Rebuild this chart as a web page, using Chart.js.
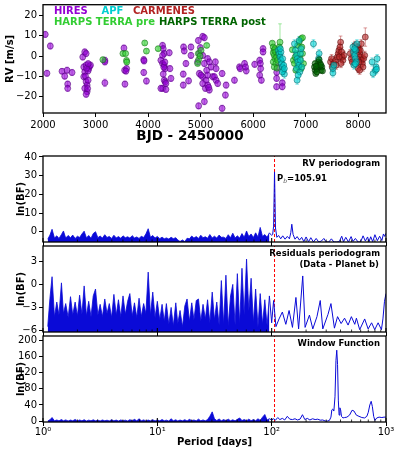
<!DOCTYPE html>
<html>
<head>
<meta charset="utf-8">
<script src="https://cdn.jsdelivr.net/npm/chart.js@4.4.0/dist/chart.umd.min.js"></script>
<style>
  body { margin: 0; background: #fff; overflow: hidden; }
  #wrap { position: relative; width: 398px; height: 452px; }
  canvas { position: absolute; left: 0; top: 0; }
</style>
</head>
<body>
<div id="wrap">
  <canvas id="rv" width="398" height="452"></canvas>
  <canvas id="p1" width="398" height="452"></canvas>
  <canvas id="p2" width="398" height="452"></canvas>
  <canvas id="p3" width="398" height="452"></canvas>
</div>
<script>
// ---- RV data: [BJD-2450000, RV m/s, error m/s] per instrument ----
const hiresRV = [
  [2043,10.6,1.5],[2139,4.9,1.5],[2075,-8.5,1.5],[2362,-7.5,1.3],[2413,-9.9,1.5],[2458,-7.0,1.5],[2553,-8.1,1.5],
  [2470,-13.8,1.5],[2470,-15.9,1.5],[2757,-0.5,1.5],[2795,2.0,1.5],[2821,1.2,1.5],[2776,-5.4,1.5],[2821,-4.5,1.5],
  [2872,-6.2,1.5],[2795,-7.8,1.5],[2776,-10.2,1.5],[2821,-12.7,1.5],[2840,-14.3,1.5],[2795,-15.9,1.5],[2840,-17.5,1.5],
  [2821,-18.8,1.5],[2885,-5.0,1.5],[2859,-7.3,1.5],[2904,-4.5,1.5],[2808,-9.9,1.5],[2859,-11.9,1.5],[2830,-6.0,1.5],
  [2850,-16.0,1.5],[2860,-3.8,1.5],[3178,-2.1,1.5],[3178,-2.9,1.5],[3178,-13.2,1.8],[3541,3.9,1.5],[3554,-7.0,1.5],
  [3592,-6.2,1.5],[3560,-13.8,1.5],[3580,-7.4,1.5],[3918,-1.8,1.5],[3924,-2.4,1.5],[3918,-8.1,1.5],[3969,-12.3,1.5],
  [4276,5.2,1.5],[4289,3.6,1.5],[4308,1.2,1.5],[4276,0.3,1.5],[4404,1.6,1.5],[4244,-2.1,1.5],[4276,-3.7,1.5],
  [4308,-4.5,1.5],[4327,-6.2,1.5],[4417,-6.2,1.5],[4436,-11.0,1.5],[4289,-8.9,1.5],[4308,-11.9,1.5],[4327,-12.7,1.5],
  [4276,-15.9,1.5],[4340,-16.4,1.5],[4244,-15.9,1.5],[4340,-13.5,1.5],[4300,-5.5,1.5],[4320,-3.0,1.5],
  [4676,4.4,1.5],[4689,2.5,1.5],[4721,-3.7,1.5],[4670,-8.9,1.5],[4772,-12.2,1.5],[4670,-14.3,1.5],[4817,4.4,1.5],
  [4817,0.3,1.5],[4957,7.6,1.5],[5040,9.6,1.5],[5072,9.0,1.5],[4995,4.1,1.5],[4976,1.2,1.5],[5040,0.3,1.5],
  [4944,-2.9,1.5],[5072,-3.7,1.5],[5135,-1.3,1.5],[5167,-2.9,1.5],[4976,-8.6,1.5],[5040,-10.2,1.5],[5104,-11.9,1.5],
  [5040,-13.5,1.5],[5091,-15.9,1.5],[4963,-24.5,1.5],[5072,-22.4,1.5],[5199,-5.4,1.5],[5231,-10.2,1.5],[5135,-14.3,1.5],
  [5167,-16.7,1.5],[5008,-9.4,1.5],[5135,-9.4,1.5],[5116,-7.0,1.5],[5155,-15.4,1.5],[5282,-2.9,1.5],[5295,-6.2,1.5],
  [5263,-10.2,1.5],[5295,-11.9,1.5],[5326,-13.5,1.5],[5410,-8.6,1.5],[5410,-25.7,1.5],[5486,-14.3,1.5],[5473,-19.2,1.5],
  [5645,-11.9,1.5],[5741,-5.4,1.5],[5754,-6.2,1.5],[5837,-3.7,1.5],[5869,-7.3,1.5],[5856,-5.4,1.5],[6030,-4.1,1.5],
  [6125,-2.1,1.5],[6138,-3.7,1.5],[6189,3.6,1.5],[6189,2.0,1.5],[6157,-11.9,1.5],[6125,-9.4,1.5],[6144,-6.2,1.5],
  [6447,-11.0,1.5],[6447,-15.1,1.5],[6555,-13.2,1.5],[6555,-15.1,1.5],[6460,-5.4,1.5],[6450,-8.0,1.5]
];
const harpsPreRV = [
  [3140,-1.8,1.2],[3522,1.2,1.2],[3573,1.2,1.2],[3590,-2.2,1.2],[3595,-3.0,1.2],[3937,6.4,1.0],[3969,2.4,1.0],
  [4193,3.6,1.0],[4957,1.2,1.0],[5008,2.8,1.0],[4963,-1.8,1.0],[4944,-3.7,1.0],[5116,5.2,1.0],[4990,0.0,1.0],
  [6365,6.3,1.0],[6384,4.4,1.0],[6397,2.8,1.0],[6416,3.6,1.0],[6384,1.5,1.0],[6403,0.3,1.0],[6429,2.0,1.0],
  [6416,-1.3,1.0],[6448,-0.5,1.0],[6384,-2.9,1.0],[6435,-3.7,1.0],[6467,-2.1,1.0],[6480,1.2,1.0],[6512,6.8,9.0],
  [6499,4.4,1.0],[6403,-5.4,1.0],[6455,-6.0,1.0],[6748,3.1,1.0],[6767,-2.1,1.0],[6787,-3.7,1.0],[6800,-0.5,1.0],
  [6832,1.2,1.0],[6851,5.2,1.0],[6876,6.8,1.0],[6914,8.5,1.0],[6940,9.0,1.0],[6927,4.4,1.0],[6940,1.2,1.0],
  [6959,-3.7,1.0],[6914,-6.2,1.0],[6864,-5.4,1.0],[6813,-7.0,1.0],[6895,-1.3,1.0]
];
const harpsPostRV = [
  [7168,-5.4,1.2],[7181,-7.0,1.2],[7194,-8.6,1.2],[7213,-6.2,1.2],[7232,-4.5,1.2],[7245,-2.9,1.2],[7257,-1.8,1.2],
  [7277,-5.4,1.2],[7296,-7.0,1.2],[7309,-5.4,1.2],[7321,-7.3,1.2],[7213,-7.8,1.2],[7277,-3.7,1.2],[7181,-3.7,1.2],
  [7290,-4.5,1.2],[7200,-5.0,1.2]
];
const apfRV = [
  [6480,2.8,2],[6499,1.2,2],[6512,-0.5,2],[6531,-2.1,2],[6544,-3.7,2],[6557,-5.4,2],[6576,-7.0,2],[6595,-8.9,2],
  [6563,-1.3,2],[6531,2.0,2],[6582,-4.5,2],[6518,3.6,2],[6557,-7.8,2],[6595,-6.2,2],[6787,6.0,2],[6806,2.8,2],
  [6825,0.3,2],[6838,-1.3,2],[6851,-2.9,2],[6870,-4.5,2],[6825,-6.2,2],[6838,-11.9,2],[6889,-7.8,2],[6902,1.2,2],
  [6914,3.6,2],[6876,7.6,2],[6857,-9.4,2],[6902,-2.1,2],[6927,-5.4,2],[7149,6.0,2],[7257,1.2,2],[7245,-1.3,2],
  [7519,-8.3,2],[7519,-6.2,2],[7538,-4.5,2],[7900,4.4,2],[7913,2.0,2],[7932,0.3,2],[7945,-1.3,2],[7964,-2.9,2],
  [7951,2.8,2],[7920,-4.5,2],[7977,6.0,2],[7932,3.6,2],[7945,-3.8,2],[8265,-2.9,2],[8284,-8.6,2],[8329,-7.0,2],
  [8361,-1.3,2],[8342,-5.4,2],[8350,-6.5,2]
];
const carmenesRV = [
  [7474,-2.9,2],[7494,-1.3,2],[7506,-5.4,2],[7538,-3.7,2],[7570,-2.1,2],[7602,-0.5,2],[7621,1.2,2],[7634,2.8,2],
  [7666,6.8,3],[7653,4.4,2],[7685,2.0,2],[7698,-0.5,2],[7710,-2.1,2],[7672,-3.7,2],[7583,-4.5,2],[7730,0.3,2],
  [7640,-0.5,2],[7850,1.2,2],[7869,-1.3,2],[7888,-2.9,2],[7996,4.4,2],[8015,2.8,2],[8028,1.2,2],[8040,-0.5,2],
  [8060,-2.1,2],[8079,-3.7,2],[8092,-5.4,2],[8104,-1.3,2],[8124,0.3,2],[8060,6.0,2],[8002,-6.2,2],[8028,-7.0,2],
  [8136,9.3,4.5],[8040,2.8,2],[7964,2.8,2],[7939,5.2,2],[7980,-1.5,2],[8010,-3.0,2]
];
const bjdTicks = [2000, 3000, 4000, 5000, 6000, 7000, 8000];

// ---- periodograms: shared period grid 1.1 - 95.5 d, then per-panel tails ----
const gridPeriods = [
  1.1,1.15,1.2,1.26,1.32,1.38,1.45,1.51,1.58,1.66,1.74,1.82,1.91,2.0,2.09,2.19,2.29,2.4,2.51,2.63,2.75,2.88,
  3.02,3.16,3.31,3.47,3.63,3.8,3.98,4.17,4.37,4.57,4.79,5.01,5.25,5.5,5.75,6.03,6.31,6.61,6.92,7.24,7.59,7.94,
  8.32,8.71,9.12,9.55,10,10.5,11,11.5,12,12.6,13.2,13.8,14.5,15.1,15.8,16.6,17.4,18.2,19.1,20,20.9,21.9,22.9,24,
  25.1,26.3,27.5,28.8,30.2,31.6,33.1,34.7,36.3,38,39.8,41.7,43.7,45.7,47.9,50.1,52.5,55,57.5,60.3,63.1,66.1,
  69.2,72.4,75.9,79.4,83.2,87.1,91.2,95.5
];
const rvPowerDense = [
  -4.0,-1.8,1.3,-3.4,-2.2,-3.6,-1.5,0.4,-3.4,-2.0,-3.2,-1.8,-3.6,-2.4,-3.1,-1.2,0.3,-3.3,-2.0,-3.5,-1.0,0.0,
  -3.2,-2.3,-3.4,-1.6,-3.1,-2.5,-3.6,-1.9,-3.3,-2.6,-3.5,-2.2,-3.2,-2.7,-3.4,-2.1,-3.3,-2.8,-3.6,-2.4,-3.1,-1.2,
  1.6,-3.0,-2.0,-3.4,-2.5,-3.7,-2.9,-3.8,-3.3,-3.9,-3.0,-3.7,-3.2,-4.4,-5.2,-4.4,-5.3,-3.5,-3.8,-2.3,-3.4,-2.6,
  -3.6,-1.9,-3.2,-2.7,-3.5,-1.5,-3.3,-2.4,-3.4,-1.8,-3.0,-2.9,-3.6,-1.6,-3.2,-0.8,-3.3,-2.2,-3.4,-1.0,-3.0,0.4,
  -2.6,-1.2,-3.1,-0.6,-2.8,2.3,-2.6,-1.5,-3.0,-0.6
];
const rvTailPeriods = [
  100,102,104,105.91,108,111,115,120,125,131,137,143,147,150,154,160,167,175,183,191,200,210,220,232,245,
  258,272,286,300,316,333,350,370,390,410,425,445,470,495,515,540,570,600,630,660,690,710,735,765,800,840,
  880,920,950,975,1000
];
const rvTailPower = [
  -2.0,-1.5,3.0,32.0,2.0,-3.0,-2.0,-3.8,-2.2,-4.0,-2.5,-3.8,-0.5,4.0,-1.5,-4.0,-2.6,-4.5,-3.0,-5.3,-2.8,-5.4,
  -3.2,-5.5,-3.6,-5.5,-5.0,-3.6,-5.5,-5.5,-3.8,-5.5,-5.5,-5.3,-2.4,-5.4,-3.0,-5.5,-2.6,-5.2,-3.6,-5.5,-5.5,
  -2.2,-5.0,-2.8,-5.4,-2.7,-5.3,-1.6,-4.8,-2.4,-4.7,-1.2,-2.5,-0.8
];
const resPowerDense = [
  -5.5,-1.8,1.0,-4.2,-2.3,-4.0,0.2,-3.8,-2.5,-4.3,-1.6,-4.0,-2.3,-4.1,-1.4,-3.9,-0.2,-4.1,-2.2,-4.2,-1.5,-0.6,
  -4.0,-2.6,-4.2,-1.9,-3.8,-2.5,-4.3,-1.3,-4.0,-2.0,-4.2,-1.5,-3.9,-2.2,-1.2,-4.1,-2.4,-4.3,-1.8,-4.2,-2.5,-3.8,
  1.6,-4.0,-1.0,-4.3,-2.2,-4.6,-2.6,-4.8,-2.5,-5.2,-3.0,-5.4,-2.4,-5.1,-3.4,-5.5,-2.8,-1.9,-4.8,-2.4,-4.6,-2.1,
  -1.9,-4.8,-2.6,-4.5,-2.0,-5.0,-1.0,-4.6,-2.3,-5.3,0.5,-5.2,1.2,-5.4,-1.5,0.0,-5.3,1.4,-5.1,2.1,-4.0,3.3,-3.5,
  0.8,-5.0,-0.6,-5.5,-1.2,-5.2,-2.0,-5.4,-1.5
];
const resTailPeriods = [
  100,104,109,116,124,133,142,152,163,172,187,196,214,229,249,266,280,311,330,354,377,405,434,466,498,533,
  551,589,651,698,748,797,853,912,940,970,1000
];
const resTailPower = [
  -5.0,-2.1,-5.5,-4.5,-3.6,-5.2,-3.4,-5.6,-1.7,-5.8,1.1,-5.6,-4.0,-5.8,-4.2,-2.1,-5.8,-3.9,-2.5,-5.7,-4.2,-5.1,
  -4.4,-5.3,-4.2,-5.2,-4.4,-5.9,-4.5,-5.8,-5.0,-5.9,-5.0,-5.9,-4.5,-2.2,-1.2
];
const winPowerDense = [
  0.5,3.5,9,1.0,3.0,0.8,4.0,1.0,3.2,0.6,2.8,1.0,4.2,0.7,3.0,0.9,3.6,0.5,2.6,1.0,3.4,0.8,2.5,0.6,3.0,1.0,2.4,
  0.7,3.3,0.8,2.7,0.5,3.1,0.9,2.6,0.6,3.8,1.0,4.5,0.8,6.0,1.0,3.2,0.6,2.8,0.9,3.5,0.7,3.0,0.8,4.0,1.0,2.6,0.5,
  6.0,1.0,3.4,0.6,2.8,1.0,3.7,0.7,4.5,1.2,3.0,0.8,5.0,1.0,3.2,0.9,4.0,12,23,6,1.5,5.5,1.0,4.0,1.2,5.0,1.0,3.5,
  0.8,4.5,8.0,1.5,4.0,1.0,5.0,1.2,4.0,1.0,6.0,2.0,10,16.5,3.0,6.0
];
const winTailPeriods = [
  100,104,108,113,118,124,130,137,144,152,160,168,177,186,195,205,216,228,240,253,266,280,294,308,320,330,
  336,342,350,358,365,371,377,383,389,395,401,408,420,435,455,480,505,525,550,580,615,650,680,700,722,742,
  760,780,800,830,870,920,960,1000
];
const winTailPower = [
  3,6,2.5,9,4,7,3,12,5,4,6,3,5,16,4,7,3,6,4,5,2.5,3,0.5,0.5,2,10,28,30,25,60,150,175,140,50,15,33,28,12,8,9,
  10,15,27,25,15,12,9,8,12,22,40,49,36,12,2,8,10,9,10,10
];
const periodTicks = [1,2,3,4,5,6,7,8,9,10,20,30,40,50,60,70,80,90,100,200,300,400,500,600,700,800,900,1000];
const decadeLabels = ['10\u2070', '10\u00b9', '10\u00b2', '10\u00b3'];
const planetPeriod = 105.91;

Chart.defaults.font.family = "'DejaVu Sans', sans-serif";
Chart.defaults.color = '#000';

const BLUE = 'rgb(10,10,215)';

function minus(v) { return String(v).replace('-', '\u2212'); }
function isDecade(v) { const l = Math.log10(v); return Math.abs(l - Math.round(l)) < 1e-9; }
function noPad(s) { s.paddingTop = 0; s.paddingBottom = 0; s.paddingLeft = 0; s.paddingRight = 0; }

// box around the plotting area
const frame = {
  id: 'frame',
  afterDraw(chart) {
    const a = chart.chartArea, c = chart.ctx;
    c.save();
    c.lineWidth = 1.3;
    c.strokeStyle = '#000';
    c.strokeRect(a.left, a.top, a.right - a.left, a.bottom - a.top);
    c.restore();
  }
};

// inward tick marks along the bottom of the log axis
const innerTicks = {
  id: 'innerTicks',
  afterDraw(chart) {
    const xs = chart.scales.x, a = chart.chartArea, c = chart.ctx;
    c.save();
    c.strokeStyle = '#000';
    xs.ticks.forEach(t => {
      const px = xs.getPixelForValue(t.value);
      const major = isDecade(t.value);
      c.lineWidth = major ? 1.1 : 0.8;
      c.beginPath();
      c.moveTo(px, a.bottom);
      c.lineTo(px, a.bottom - (major ? 4 : 2.5));
      c.stroke();
    });
    c.restore();
  }
};

// error bars for the RV points
const errorBars = {
  id: 'errorBars',
  beforeDatasetsDraw(chart) {
    const c = chart.ctx, xs = chart.scales.x, ys = chart.scales.y;
    const sets = chart.data.datasets;
    c.save();
    c.lineWidth = 1;
    for (let i = sets.length - 1; i >= 0; i--) {
      const ds = sets[i];
      c.strokeStyle = ds.errorColor;
      c.beginPath();
      ds.data.forEach(p => {
        const px = xs.getPixelForValue(p.x);
        const lo = ys.getPixelForValue(p.y - p.err), hi = ys.getPixelForValue(p.y + p.err);
        c.moveTo(px, lo); c.lineTo(px, hi);
        c.moveTo(px - 1.8, lo); c.lineTo(px + 1.8, lo);
        c.moveTo(px - 1.8, hi); c.lineTo(px + 1.8, hi);
      });
      c.stroke();
    }
    c.restore();
  }
};

// free text (legend words, panel captions, axis title)
function textLayer(items) {
  return {
    id: 'texts',
    afterDraw(chart) {
      const c = chart.ctx;
      items.forEach(it => {
        c.save();
        c.textBaseline = 'middle';
        const runs = it.runs || [{ text: it.text }];
        let w = 0;
        runs.forEach(r => { c.font = r.font || it.font; w += c.measureText(r.text).width; });
        let x = it.x;
        if (it.align === 'right') x -= w;
        if (it.align === 'center') x -= w / 2;
        runs.forEach(r => {
          c.font = r.font || it.font;
          c.fillStyle = r.color || it.color || '#000';
          c.fillText(r.text, x, it.y + (r.dy || 0));
          x += c.measureText(r.text).width;
        });
        c.restore();
      });
    }
  };
}

function toPoints(rows) { return rows.map(r => ({ x: r[0], y: r[1], err: r[2] })); }

function rvSet(rows, rgb, edge) {
  return {
    data: toPoints(rows),
    backgroundColor: 'rgba(' + rgb + ',0.6)',
    borderColor: edge,
    borderWidth: 0.7,
    pointRadius: 3,
    errorColor: 'rgba(' + rgb + ',0.45)'
  };
}

const LEG = 'bold 10px "DejaVu Sans"';

new Chart(document.getElementById('rv'), {
  type: 'scatter',
  data: {
    datasets: [
      rvSet(harpsPostRV, '0,100,0', 'rgba(0,50,0,0.8)'),
      rvSet(apfRV, '0,206,209', 'rgba(0,100,105,0.8)'),
      rvSet(carmenesRV, '178,34,34', 'rgba(90,10,10,0.8)'),
      rvSet(harpsPreRV, '50,205,50', 'rgba(20,110,20,0.8)'),
      rvSet(hiresRV, '148,0,211', 'rgba(80,0,120,0.8)')
    ]
  },
  options: {
    responsive: false, animation: false, devicePixelRatio: 1, events: [],
    layout: { padding: { left: 0, right: 12, top: 4, bottom: 309 } },
    plugins: { legend: { display: false }, tooltip: { enabled: false } },
    scales: {
      x: {
        type: 'linear', min: 2000, max: 8530,
        afterBuildTicks: s => { s.ticks = bjdTicks.map(v => ({ value: v })); },
        afterFit: s => { s.height = 30; noPad(s); },
        border: { display: false },
        grid: { drawOnChartArea: false, tickLength: 4, color: '#000' },
        ticks: { padding: 2, font: { size: 10 }, maxRotation: 0, autoSkip: false, callback: v => String(v) },
        title: { display: false }
      },
      y: {
        min: -28, max: 25.2,
        afterFit: s => { s.width = 43; noPad(s); },
        border: { display: false },
        grid: { drawOnChartArea: false, tickLength: 4, color: '#000' },
        ticks: { stepSize: 10, includeBounds: false, padding: 2, font: { size: 10 }, callback: v => minus(v) },
        title: { display: true, text: 'RV [m/s]', font: { size: 10, weight: 'bold' }, padding: { top: 4, bottom: 0 } }
      }
    }
  },
  plugins: [errorBars, frame, textLayer([
    { text: 'HIRES', x: 54, y: 11.5, font: LEG, color: 'rgb(148,0,211)' },
    { text: 'APF', x: 101.5, y: 11.5, font: LEG, color: 'rgb(0,206,209)' },
    { text: 'CARMENES', x: 133, y: 11.5, font: LEG, color: 'rgb(178,34,34)' },
    { text: 'HARPS TERRA pre', x: 54, y: 22.5, font: LEG, color: 'rgb(50,205,50)' },
    { text: 'HARPS TERRA post', x: 159, y: 22.5, font: LEG, color: 'rgb(0,100,0)' },
    { text: 'BJD - 2450000', x: 190, y: 136, font: 'bold 13.5px "DejaVu Sans"', align: 'center' }
  ])]
});

function periodogram(id, cfg) {
  const dense = gridPeriods.map((p, i) => ({ x: p, y: cfg.dense[i] }));
  const tail = [dense[dense.length - 1]].concat(cfg.tailP.map((p, i) => ({ x: p, y: cfg.tailV[i] })));
  return new Chart(document.getElementById(id), {
    type: 'line',
    data: {
      datasets: [
        { data: dense, borderColor: BLUE, backgroundColor: BLUE, borderWidth: 0.8, pointRadius: 0, fill: 'start' },
        { data: tail, borderColor: BLUE, borderWidth: 1, pointRadius: 0, fill: false },
        { data: [{ x: planetPeriod, y: cfg.min }, { x: planetPeriod, y: cfg.max }],
          borderColor: 'rgb(255,0,0)', borderWidth: 1, borderDash: [3, 2], pointRadius: 0, fill: false }
      ]
    },
    options: {
      responsive: false, animation: false, devicePixelRatio: 1, events: [],
      layout: { padding: { left: 0, right: 12, top: cfg.top, bottom: cfg.bottom } },
      plugins: { legend: { display: false }, tooltip: { enabled: false } },
      scales: {
        x: {
          type: 'logarithmic', min: 1, max: 1000,
          afterBuildTicks: s => { s.ticks = periodTicks.map(v => ({ value: v })); },
          afterFit: s => { s.height = cfg.xHeight; noPad(s); },
          border: { display: false },
          grid: { drawOnChartArea: false, tickLength: 4, color: '#000',
                  tickColor: c => (c.tick && isDecade(c.tick.value)) ? '#000' : 'rgba(0,0,0,0)' },
          ticks: { display: cfg.showX, autoSkip: false, maxRotation: 0, padding: 0, font: { size: 10 },
                   callback: v => isDecade(v) ? decadeLabels[Math.round(Math.log10(v))] : '' },
          title: { display: cfg.showX, text: 'Period [days]', font: { size: 10, weight: 'bold' }, padding: { top: 0, bottom: 4 } }
        },
        y: {
          min: cfg.min, max: cfg.max,
          afterFit: s => { s.width = 43; noPad(s); },
          border: { display: false },
          grid: { drawOnChartArea: false, tickLength: 4, color: '#000' },
          ticks: { stepSize: cfg.step, includeBounds: false, padding: 2, font: { size: 10 }, callback: v => minus(v) },
          title: { display: true, text: 'ln(BF)', font: { size: 10, weight: 'bold' }, padding: { top: 15, bottom: 0 } }
        }
      }
    },
    plugins: [frame, innerTicks, textLayer(cfg.texts)]
  });
}

const CAP = 'bold 8.5px "DejaVu Sans"';

periodogram('p1', {
  dense: rvPowerDense, tailP: rvTailPeriods, tailV: rvTailPower,
  min: -5.5, max: 40.5, step: 10, top: 156, bottom: 206, xHeight: 4, showX: false,
  texts: [
    { text: 'RV periodogram', x: 380, y: 164, font: CAP, align: 'right' },
    { x: 277, y: 179, font: CAP, runs: [
      { text: 'P' },
      { text: 'b', font: 'italic 6px "DejaVu Sans"', color: '#555', dy: 2 },
      { text: '=105.91' }
    ] }
  ]
});
periodogram('p2', {
  dense: resPowerDense, tailP: resTailPeriods, tailV: resTailPower,
  min: -6.2, max: 5, step: 3, top: 246, bottom: 116, xHeight: 4, showX: false,
  texts: [
    { text: 'Residuals periodogram', x: 380, y: 253.5, font: CAP, align: 'right' },
    { text: '(Data - Planet b)', x: 379, y: 264.5, font: CAP, align: 'right' }
  ]
});
periodogram('p3', {
  dense: winPowerDense, tailP: winTailPeriods, tailV: winTailPower,
  min: -2, max: 210, step: 40, top: 336, bottom: 0, xHeight: 30, showX: true,
  texts: [
    { text: 'Window Function', x: 380, y: 343.5, font: CAP, align: 'right' }
  ]
});
</script>
</body>
</html>
